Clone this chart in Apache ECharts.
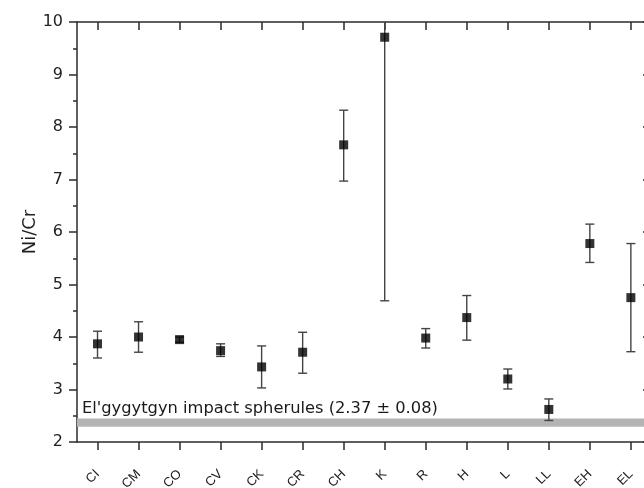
<!DOCTYPE html>
<html>
<head>
<meta charset="utf-8">
<script src="https://cdn.jsdelivr.net/npm/echarts@6/dist/echarts.min.js"></script>
<style>
  html, body { margin: 0; padding: 0; background: #ffffff; overflow: hidden; }
  #chart { width: 644px; height: 488px; }
</style>
</head>
<body>
<div id="chart"></div>
<script>
// Chondrite groups and their mean Ni/Cr ratios with error ranges
const categories = ['CI', 'CM', 'CO', 'CV', 'CK', 'CR', 'CH', 'K', 'R', 'H', 'L', 'LL', 'EH', 'EL'];
const ratio = [3.87, 4.00, 3.95, 3.74, 3.43, 3.71, 7.66, 9.71, 3.98, 4.37, 3.20, 2.62, 5.78, 4.75];
const lower = [3.60, 3.71, 3.90, 3.63, 3.03, 3.31, 6.97, 4.69, 3.79, 3.94, 3.01, 2.41, 5.42, 3.72];
const upper = [4.11, 4.29, 4.00, 3.87, 3.83, 4.09, 8.32, 14.73, 4.16, 4.79, 3.39, 2.82, 6.15, 5.78];

// Impact spherule reference value
const spheruleMean = 2.37;
const spheruleErr = 0.08;
const spheruleLabel = "El'gygytgyn impact spherules (2.37 \u00b1 0.08)";

// Y axis range
const yMin = 2;
const yMax = 10;
const yStep = 1;

// X positions: one slot per group; the frame runs on past the right edge
const xMin = -0.5;
const xMax = 13.32;
const slots = categories.map((c, i) => i);

const FONT = '"DejaVu Sans", "Liberation Sans", Arial, sans-serif';
const FONT_X = '"Liberation Sans", Arial, sans-serif';
const AXIS_COLOR = '#2b2b2b';

const chart = echarts.init(document.getElementById('chart'), null, { renderer: 'canvas' });

const pointData = slots.map(i => [i, ratio[i]]);
const errData = slots.map(i => [i, lower[i], upper[i]]);

const axisLineStyle = { color: AXIS_COLOR, width: 1.5 };

const option = {
  animation: false,
  backgroundColor: '#ffffff',
  grid: { left: 77, top: 22, right: 0, height: 420, containLabel: false, outerBoundsMode: 'none' },
  xAxis: [
    {
      type: 'value',
      min: xMin,
      max: xMax,
      position: 'bottom',
      axisLine: { show: true, onZero: false, lineStyle: axisLineStyle },
      axisTick: { show: true, inside: false, length: 8, customValues: slots, lineStyle: axisLineStyle },
      axisLabel: {
        rotate: 45, margin: 30, fontSize: 13, color: '#222', fontFamily: FONT_X,
        customValues: slots,
        formatter: v => categories[Math.round(v)]
      },
      splitLine: { show: false }
    },
    {
      type: 'value',
      min: xMin,
      max: xMax,
      position: 'top',
      axisLine: { show: true, onZero: false, lineStyle: axisLineStyle },
      axisTick: { show: true, inside: true, length: 8, customValues: slots, lineStyle: axisLineStyle },
      axisLabel: { show: false },
      splitLine: { show: false }
    }
  ],
  yAxis: [
    {
      type: 'value',
      min: yMin,
      max: yMax,
      interval: yStep,
      position: 'left',
      name: 'Ni/Cr',
      nameLocation: 'middle',
      nameGap: 38,
      nameMoveOverlap: false,
      nameTextStyle: { fontSize: 18, color: '#222', fontFamily: FONT },
      axisLine: { show: true, onZero: false, lineStyle: axisLineStyle },
      axisTick: { show: true, inside: false, length: 8, lineStyle: axisLineStyle },
      minorTick: { show: true, splitNumber: 2, length: 4, lineStyle: axisLineStyle },
      axisLabel: { margin: 14, fontSize: 16, color: '#222', fontFamily: FONT },
      splitLine: { show: false }
    },
    {
      type: 'value',
      min: yMin,
      max: yMax,
      interval: yStep,
      position: 'right',
      offset: 7,
      axisLine: { show: true, onZero: false, lineStyle: axisLineStyle },
      axisTick: { show: true, inside: true, length: 8, lineStyle: axisLineStyle },
      minorTick: { show: true, splitNumber: 2, length: 4, lineStyle: axisLineStyle },
      axisLabel: { show: false },
      splitLine: { show: false }
    }
  ],
  series: [
    {
      // horizontal band for the spherule ratio
      type: 'line',
      data: [],
      z: 1,
      markArea: {
        silent: true,
        itemStyle: { color: '#b4b4b4' },
        label: {
          show: true,
          position: [5, -2],
          align: 'left',
          verticalAlign: 'bottom',
          fontSize: 16.3,
          color: '#1a1a1a',
          fontFamily: FONT,
          formatter: spheruleLabel
        },
        data: [[{ yAxis: spheruleMean - spheruleErr }, { yAxis: spheruleMean + spheruleErr }]]
      }
    },
    {
      // error bars
      type: 'custom',
      z: 3,
      clip: true,
      data: errData,
      encode: { x: 0, y: [1, 2] },
      renderItem: function (params, api) {
        const x = api.value(0);
        const lo = api.coord([x, api.value(1)]);
        const hi = api.coord([x, api.value(2)]);
        const cap = 4.5;
        const style = { stroke: '#444444', lineWidth: 1.4, fill: null };
        return {
          type: 'group',
          children: [
            { type: 'line', shape: { x1: lo[0], y1: lo[1], x2: hi[0], y2: hi[1] }, style: style },
            { type: 'line', shape: { x1: lo[0] - cap, y1: lo[1], x2: lo[0] + cap, y2: lo[1] }, style: style },
            { type: 'line', shape: { x1: hi[0] - cap, y1: hi[1], x2: hi[0] + cap, y2: hi[1] }, style: style }
          ]
        };
      }
    },
    {
      // mean values
      type: 'scatter',
      z: 4,
      symbol: 'rect',
      symbolSize: 9,
      itemStyle: { color: '#000000' },
      data: pointData
    }
  ]
};

chart.setOption(option);
</script>
</body>
</html>
